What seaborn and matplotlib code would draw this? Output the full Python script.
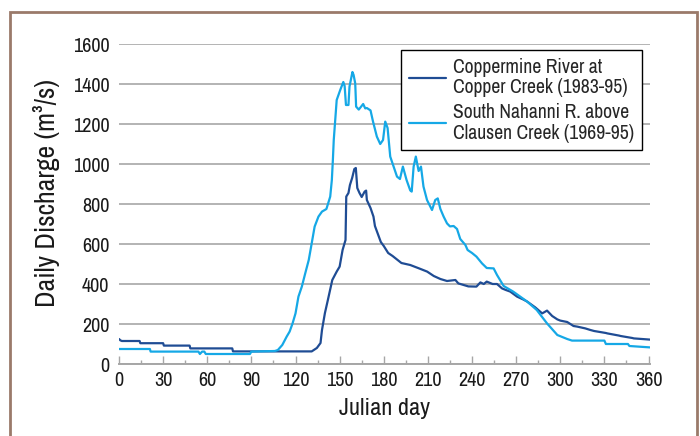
import numpy as np
import pandas as pd

import matplotlib
matplotlib.use("Agg")
import matplotlib.pyplot as plt
import seaborn as sns
from matplotlib import font_manager
from matplotlib.ticker import MultipleLocator

# Coppermine River at Copper Creek, daily discharge (m3/s)
cop_day = [0, 1, 2, 14, 14.5, 30, 30.5, 48, 48.5, 77, 77.5, 131, 134.5, 137, 138,
           140, 142, 145, 148, 150, 152, 154, 154.5, 156, 157, 158.5, 160, 161,
           162, 163.5, 165, 167, 168, 168.5, 171, 173, 174, 176.5, 178, 180, 183,
           186, 192, 198, 204, 209.5, 214, 218.5, 223, 228.7, 230.7, 237.5, 243,
           245.7, 248, 250, 254, 257, 260.4, 263, 266, 270.6, 275, 277.5, 283,
           287.7, 291, 294.5, 298, 300, 304.7, 309, 311.5, 317, 320.5, 323, 331,
           332, 340, 341, 349, 350, 361]
cop_q = [125, 118, 115, 115, 104, 104, 92, 92, 78, 78, 63, 63, 80, 105, 170,
         255, 320, 420, 462, 487, 570, 620, 837, 855, 895, 930, 975, 980,
         880, 855, 835, 862, 867, 820, 780, 737, 690, 640, 610, 590, 555,
         540, 505, 495, 478, 462, 440, 425, 415, 420, 403, 388, 387,
         408, 400, 412, 400, 400, 378, 370, 362, 337, 322, 312, 283,
         253, 267, 240, 223, 217, 210, 190, 187, 178, 170, 165, 155,
         153, 142, 140, 130, 128, 122]

# South Nahanni R. above Clausen Creek
nah_day = [0, 21, 21.5, 54, 55, 56.5, 58, 59, 89, 90, 106, 108, 111, 114, 116,
           118, 120, 122, 124.3, 126.6, 129, 131, 133, 135.6, 138, 141, 143.6,
           144.7, 145.4, 146, 147, 148, 150.4, 152.5, 153.4, 154.3, 156, 156.7,
           158.7, 159.5, 160.6, 161.2, 163, 166, 167.4, 168.5, 171, 172.7,
           175.3, 177.6, 179.5, 181, 182.6, 184.4, 186.7, 189, 191, 193, 195.5,
           198, 199, 200.3, 201.8, 203.7, 205.3, 207, 209.4, 212.8, 215, 216.7,
           218.5, 220.7, 223, 225, 227.5, 229.8, 232, 235.5, 237, 240, 243,
           246.8, 250, 254.7, 257, 261.5, 268, 277.5, 284, 291, 298, 304.7,
           308, 330, 331, 346, 347, 361]
nah_q = [75, 75, 62, 62, 50, 62, 62, 50, 50, 62, 65, 70, 95, 137, 162,
         203, 253, 337, 387, 453, 520, 603, 687, 737, 762, 775, 837,
         920, 1020, 1120, 1220, 1320, 1370, 1410, 1390, 1295, 1295, 1387,
         1460, 1445, 1403, 1287, 1272, 1300, 1278, 1280, 1268, 1212,
         1137, 1100, 1120, 1212, 1180, 1037, 987, 937, 925, 987, 920,
         868, 862, 987, 1037, 965, 987, 887, 820, 770, 820, 828,
         775, 737, 703, 688, 690, 675, 625, 595, 570, 555, 537,
         503, 480, 478, 445, 390, 362, 312, 270, 203, 145, 125,
         117, 117, 100, 100, 90, 83]

labels = ["Coppermine River at\nCopper Creek (1983-95)",
          "South Nahanni R. above\nClausen Creek (1969-95)"]
colors = ["#1f4c94", "#15a8e6"]

# look for a condensed sans face, otherwise use Liberation Sans a bit smaller
names = sorted({f.name for f in font_manager.fontManager.ttflist})
narrow = [n for n in names if "Narrow" in n or "Condensed" in n]
if narrow:
    fam, k = narrow[0], 1.0
else:
    fam, k = "Liberation Sans", 0.86

sns.set_theme(style="white")
plt.rcParams['font.family'] = [fam, 'DejaVu Sans']

fig = plt.figure(figsize=(7, 4.36), dpi=100)
ax = fig.add_axes([119 / 700, 1 - 364 / 436, 531 / 700, 320 / 436])

sns.lineplot(x=cop_day, y=cop_q, color=colors[0], lw=1.6, estimator=None,
             sort=False, label=labels[0], ax=ax)
sns.lineplot(x=nah_day, y=nah_q, color=colors[1], lw=1.6, estimator=None,
             sort=False, label=labels[1], ax=ax)

ax.set_xlim(0, 361)
ax.set_ylim(0, 1600)
ax.xaxis.set_major_locator(MultipleLocator(30))
ax.xaxis.set_minor_locator(MultipleLocator(15))
ax.yaxis.set_major_locator(MultipleLocator(200))
ax.yaxis.grid(True, color="#b3b3b3", lw=1.4)
ax.set_axisbelow(True)

for s in ["top", "right", "left"]:
    ax.spines[s].set_visible(False)
ax.spines["bottom"].set_color("#a6a6a6")
ax.spines["bottom"].set_linewidth(1.4)

ax.tick_params(axis="x", which="major", direction="in", length=6, width=1,
               color="#a6a6a6", labelsize=14.5 * k, pad=5, bottom=True)
ax.tick_params(axis="x", which="minor", direction="in", length=3, width=1,
               color="#a6a6a6", bottom=True)
ax.tick_params(axis="y", length=0, labelsize=14.5 * k, pad=7)
ax.tick_params(colors="#a6a6a6", labelcolor="#1a1a1a")

ax.set_xlabel("Julian day", fontsize=17.5 * k, color="#1a1a1a", labelpad=6)
ax.set_ylabel("Daily Discharge (m³/s)", fontsize=20 * k, color="#1a1a1a")
ax.yaxis.set_label_coords(-0.112, 0.535)

leg = ax.legend(loc="upper right", bbox_to_anchor=(0.985, 0.982),
                fontsize=14.2 * k, frameon=True, fancybox=False, framealpha=1,
                edgecolor="black", handlelength=1.9, handletextpad=0.35,
                borderpad=0.4, labelspacing=0.3, borderaxespad=0)
leg.get_frame().set_linewidth(1.0)
for t in leg.get_texts():
    t.set_linespacing(1.1)

# brown frame around the panel (open at the bottom)
fig.patches.append(plt.Rectangle((10 / 700, -0.1), 687 / 700, 1.1 - 12 / 436,
                                 transform=fig.transFigure, fill=False,
                                 edgecolor="#9a7a6a", lw=2))

fig.savefig("out.png", dpi=100)
